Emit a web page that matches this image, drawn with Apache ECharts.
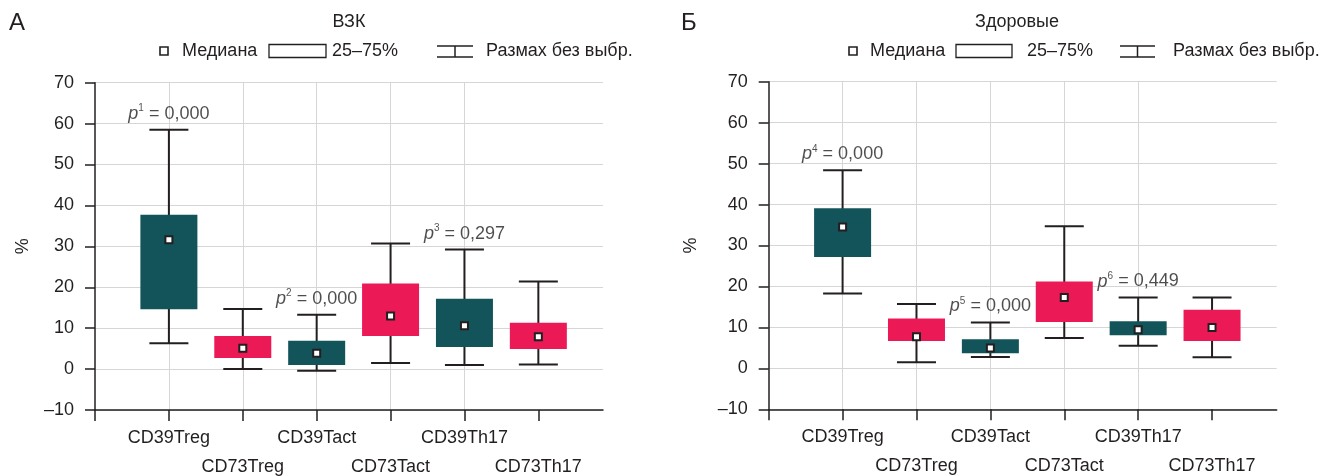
<!DOCTYPE html>
<html>
<head>
<meta charset="utf-8">
<script src="https://cdn.jsdelivr.net/npm/echarts@6/dist/echarts.min.js"></script>
<style>
html,body{margin:0;padding:0;background:#fff;}
#chart{width:1343px;height:476px;}
</style>
</head>
<body>
<div id="chart"></div>
<script>
// ---------- data ----------
const categories = ['CD39Treg', 'CD73Treg', 'CD39Tact', 'CD73Tact', 'CD39Th17', 'CD73Th17'];
const yTicks = [-10, 0, 10, 20, 30, 40, 50, 60, 70];

// Panel A: ВЗК
const ibdMin    = [6.3, 0.0, -0.4, 1.5, 1.0, 1.1];
const ibdQ1     = [14.6, 2.7, 1.0, 8.1, 5.4, 4.9];
const ibdMedian = [31.6, 5.1, 3.9, 13.0, 10.6, 7.9];
const ibdQ3     = [37.7, 8.1, 6.9, 20.9, 17.2, 11.3];
const ibdMax    = [58.5, 14.7, 13.3, 30.7, 29.2, 21.4];
const ibdPCat   = [0, 2, 4];
const ibdPSup   = ['1', '2', '3'];
const ibdPVal   = ['0,000', '0,000', '0,297'];

// Panel Б: Здоровые
const hMin    = [18.3, 1.5, 2.8, 7.4, 5.5, 2.7];
const hQ1     = [27.2, 6.7, 3.7, 11.3, 8.1, 6.7];
const hMedian = [34.5, 7.7, 5.0, 17.3, 9.4, 10.0];
const hQ3     = [39.1, 12.2, 7.1, 21.2, 11.5, 14.3];
const hMax    = [48.4, 15.7, 11.2, 34.7, 17.3, 17.3];
const hPCat   = [0, 2, 4];
const hPSup   = ['4', '5', '6'];
const hPVal   = ['0,000', '0,000', '0,449'];

// ---------- styles ----------
const DARK = '#231f20';
const TEAL = '#13545a';
const PINK = '#eb1a56';
const GRID = '#d6d6d6';
const FONT = '"Liberation Sans", Arial, sans-serif';
const FS = 18;

const catPos = categories.map((c, i) => i + 1);
const row1Pos = catPos.filter((p, i) => i % 2 === 0);
const row2Pos = catPos.filter((p, i) => i % 2 === 1);

function boxData(mn, q1, md, q3, mx) {
  return categories.map((c, i) => [i + 1, mn[i], q1[i], md[i], q3[i], mx[i], c.indexOf('CD73') === 0 ? 1 : 0]);
}

function renderBox(params, api) {
  const x = api.value(0);
  const lo = api.coord([x, api.value(1)]);
  const q1 = api.coord([x, api.value(2)]);
  const md = api.coord([x, api.value(3)]);
  const q3 = api.coord([x, api.value(4)]);
  const hi = api.coord([x, api.value(5)]);
  const color = api.value(6) ? PINK : TEAL;
  const capW = 39, boxW = 57, mk = 7;
  const ls = {stroke: DARK, lineWidth: 2};
  return {
    type: 'group',
    children: [
      {type: 'line', shape: {x1: lo[0], y1: hi[1], x2: lo[0], y2: lo[1]}, style: ls},
      {type: 'line', shape: {x1: lo[0] - capW / 2, y1: hi[1], x2: lo[0] + capW / 2, y2: hi[1]}, style: ls},
      {type: 'line', shape: {x1: lo[0] - capW / 2, y1: lo[1], x2: lo[0] + capW / 2, y2: lo[1]}, style: ls},
      {type: 'rect', shape: {x: lo[0] - boxW / 2, y: q3[1], width: boxW, height: q1[1] - q3[1]}, style: {fill: color}},
      {type: 'rect', shape: {x: md[0] - mk / 2, y: md[1] - mk / 2, width: mk, height: mk}, style: {fill: '#fff', stroke: DARK, lineWidth: 2}}
    ]
  };
}

function pSeries(xIdx, yIdx, pCat, pSup, pVal, mx) {
  return {
    type: 'scatter',
    xAxisIndex: xIdx, yAxisIndex: yIdx,
    symbolSize: 0,
    silent: true,
    z: 10,
    data: pCat.map(c => [c + 1, mx[c]]),
    label: {
      show: true,
      position: 'top',
      distance: 6,
      color: DARK,
      formatter: p => '{p|p}{s|' + pSup[p.dataIndex] + '}{t| = ' + pVal[p.dataIndex] + '}',
      rich: {
        p: {fontFamily: FONT, fontSize: FS, fontStyle: 'italic', color: DARK, lineHeight: 20},
        s: {fontFamily: FONT, fontSize: 10, color: DARK, verticalAlign: 'top', lineHeight: 12},
        t: {fontFamily: FONT, fontSize: FS, color: DARK, lineHeight: 20}
      }
    }
  };
}

function labelFmt(v) {
  const i = Math.round(v) - 1;
  return (i >= 0 && i < categories.length) ? categories[i] : '';
}

function xAxisMain(idx) {
  return {
    type: 'value', gridIndex: idx, position: 'bottom', min: 0, max: 6.875, interval: 1,
    axisLine: {show: true, onZero: false, lineStyle: {color: DARK, width: 1.5}},
    axisTick: {show: true, length: 11, lineStyle: {color: DARK, width: 1.5}, customValues: [0].concat(catPos)},
    axisLabel: {
      show: true, margin: 19, color: DARK, fontFamily: FONT, fontSize: FS,
      customValues: row1Pos, showMinLabel: true, showMaxLabel: true, hideOverlap: false,
      formatter: labelFmt
    },
    splitLine: {show: true, showMinLine: false, showMaxLine: false, lineStyle: {color: GRID, width: 1}}
  };
}

function xAxisRow2(idx) {
  return {
    type: 'value', gridIndex: idx, position: 'bottom', offset: 0, min: 0, max: 6.875, interval: 1,
    axisLine: {show: false, onZero: false},
    axisTick: {show: false},
    axisLabel: {
      show: true, margin: 48, color: DARK, fontFamily: FONT, fontSize: FS,
      customValues: row2Pos, showMinLabel: true, showMaxLabel: true, hideOverlap: false,
      formatter: labelFmt
    },
    splitLine: {show: false}
  };
}

function yAxis(idx, gap) {
  return {
    type: 'value', gridIndex: idx, min: yTicks[0], max: yTicks[yTicks.length - 1], interval: 10,
    name: '%', nameLocation: 'middle', nameGap: gap,
    nameTextStyle: {color: DARK, fontFamily: FONT, fontSize: FS},
    axisLine: {show: true, lineStyle: {color: DARK, width: 1.5}},
    axisTick: {show: true, length: 10, lineStyle: {color: DARK, width: 1.5}},
    axisLabel: {
      margin: 21, color: DARK, fontFamily: FONT, fontSize: FS,
      formatter: v => v < 0 ? '\u2013' + Math.abs(v) : String(v)
    },
    splitLine: {show: true, lineStyle: {color: GRID, width: 1}}
  };
}

function txt(x, y, text, size, align) {
  return {type: 'text', x: x, y: y, silent: true,
    style: {text: text, fill: DARK, fontFamily: FONT, fontSize: size || FS, align: align || 'left', verticalAlign: 'middle'}};
}

function legend(sqX, medX, rectX, rectW, pctX, icX, icW, rngX, y) {
  const ls = {stroke: DARK, lineWidth: 1.5, fill: null};
  return [
    {type: 'rect', silent: true, shape: {x: sqX, y: y - 4, width: 8, height: 8}, style: {fill: '#fff', stroke: DARK, lineWidth: 1.6}},
    txt(medX, y, 'Медиана'),
    {type: 'rect', silent: true, shape: {x: rectX, y: y - 6.5, width: rectW, height: 13}, style: {fill: '#fff', stroke: DARK, lineWidth: 1.3}},
    txt(pctX, y, '25–75%'),
    {type: 'line', silent: true, shape: {x1: icX, y1: y - 5, x2: icX + icW, y2: y - 5}, style: ls},
    {type: 'line', silent: true, shape: {x1: icX, y1: y + 6, x2: icX + icW, y2: y + 6}, style: ls},
    {type: 'line', silent: true, shape: {x1: icX + icW / 2, y1: y - 5, x2: icX + icW / 2, y2: y + 6}, style: ls},
    txt(rngX, y, 'Размах без выбр.')
  ];
}

const chart = echarts.init(document.getElementById('chart'), null, {renderer: 'canvas'});
chart.setOption({
  animation: false,
  backgroundColor: '#fff',
  grid: [
    {left: 95, right: 740, top: 82.7, bottom: 65.3},
    {left: 768.7, right: 66.3, top: 81.7, bottom: 66.7}
  ],
  xAxis: [xAxisMain(0), xAxisRow2(0), xAxisMain(1), xAxisRow2(1)],
  yAxis: [yAxis(0, 63), yAxis(1, 69)],
  series: [
    {type: 'custom', xAxisIndex: 0, yAxisIndex: 0, renderItem: renderBox, data: boxData(ibdMin, ibdQ1, ibdMedian, ibdQ3, ibdMax), silent: true, z: 5},
    {type: 'custom', xAxisIndex: 2, yAxisIndex: 1, renderItem: renderBox, data: boxData(hMin, hQ1, hMedian, hQ3, hMax), silent: true, z: 5},
    pSeries(0, 0, ibdPCat, ibdPSup, ibdPVal, ibdMax),
    pSeries(2, 1, hPCat, hPSup, hPVal, hMax)
  ],
  graphic: [
    txt(9, 23, 'А', 24),
    txt(349, 22, 'ВЗК', FS, 'center'),
    txt(681, 23, 'Б', 24),
    txt(1017, 22, 'Здоровые', FS, 'center')
  ].concat(
    legend(160, 182, 269, 57, 332, 437, 36, 486, 51),
    legend(849, 870, 956, 56, 1027, 1120, 35, 1173, 51)
  )
});
</script>
</body>
</html>
